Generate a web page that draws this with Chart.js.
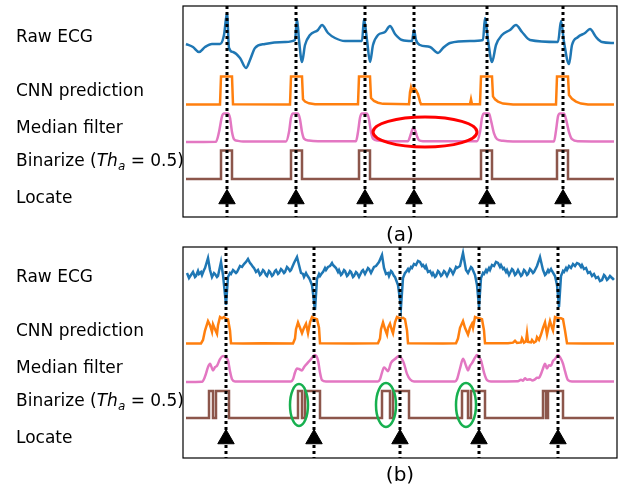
<!DOCTYPE html>
<html>
<head>
<meta charset="utf-8">
<script src="https://cdn.jsdelivr.net/npm/chart.js@4.4.0/dist/chart.umd.min.js"></script>
<style>
  body { margin:0; background:#fff; width:622px; height:487px; position:relative; overflow:hidden; font-family:"DejaVu Sans", sans-serif; }
  .panel { position:absolute; left:0; width:622px; height:240px; }
  .lbl { position:absolute; left:16px; font-size:17px; line-height:20px; color:#000; white-space:nowrap; transform:translateY(-50%); }
  .lbl sub { font-size:12px; font-style:italic; }
  .cap { position:absolute; left:400px; font-size:20px; line-height:24px; transform:translate(-50%,-50%); }
</style>
</head>
<body>
<div class="panel" style="top:0"><canvas id="chartA" width="622" height="240"></canvas></div>
<div class="panel" style="top:241px"><canvas id="chartB" width="622" height="240"></canvas></div>

<div class="lbl" style="top:36px">Raw ECG</div>
<div class="lbl" style="top:90px">CNN prediction</div>
<div class="lbl" style="top:127px">Median filter</div>
<div class="lbl" style="top:163px">Binarize (<i>Th</i><sub>a</sub> = 0.5)</div>
<div class="lbl" style="top:197px">Locate</div>
<div class="cap" style="top:234px">(a)</div>

<div class="lbl" style="top:276px">Raw ECG</div>
<div class="lbl" style="top:330px">CNN prediction</div>
<div class="lbl" style="top:367px">Median filter</div>
<div class="lbl" style="top:403px">Binarize (<i>Th</i><sub>a</sub> = 0.5)</div>
<div class="lbl" style="top:437px">Locate</div>
<div class="cap" style="top:474px">(b)</div>

<script>
// ---- panel (a) : [sample, value] ----
const ecgA = [[3,0],[10,-3],[16,-8],[22,-3],[29,0],[37,0],[41,9],[44,31],[46,-4],[50,-8],[57,-14],[63,-24],[67,-16],[72,-4],[82,0],[102,2],[112,4],[114,25],[116,4],[119,-18],[122,-1],[127,9],[135,14],[139,19],[145,11],[152,6],[162,3],[179,3],[181,25],[184,4],[187,-18],[190,-1],[195,9],[202,12],[207,18],[212,10],[219,4],[229,3],[231,14],[233,4],[237,-1],[247,-3],[255,-9],[260,-4],[267,1],[287,3],[300,4],[302,26],[305,4],[309,-18],[313,-1],[319,9],[327,14],[333,19],[339,12],[347,4],[375,2],[378,23],[381,2],[386,-20],[389,-1],[395,7],[402,11],[407,15],[413,7],[419,2],[431,1]];
const cnnA = [[3,0.02],[37,0.02],[38,1],[49,1],[50,0.03],[107,0.02],[108,1],[119,1],[120,0.2],[122,0.12],[126,0.06],[132,0.03],[175,0.03],[176,1],[187,1],[188,0.25],[191,0.14],[195,0.08],[200,0.04],[226,0.03],[227,0.45],[228,0.62],[229,0.5],[231,0.6],[233,0.52],[235,0.38],[237,0.12],[238,0.03],[287,0.03],[288,0.2],[289,0.03],[297,0.03],[298,1],[309,1],[310,0.3],[312,0.2],[315,0.12],[320,0.05],[330,0.02],[373,0.02],[374,1],[385,1],[386,0.35],[389,0.22],[393,0.12],[398,0.05],[405,0.02],[431,0.02]];
const medA = [[3,0],[33,0.01],[36,0.35],[39,0.9],[41,1],[45,1],[47,0.85],[49,0.35],[51,0.1],[55,0.04],[60,0.02],[103,0.02],[106,0.35],[108,0.85],[110,1],[115,1],[117,0.8],[119,0.35],[121,0.12],[126,0.05],[135,0.03],[173,0.03],[175,0.35],[177,0.85],[179,1],[184,1],[186,0.8],[188,0.35],[190,0.12],[195,0.05],[205,0.03],[225,0.03],[228,0.3],[230,0.48],[232,0.42],[234,0.2],[236,0.06],[240,0.03],[294,0.03],[297,0.35],[299,0.85],[301,1],[306,1],[308,0.75],[311,0.3],[314,0.1],[320,0.04],[330,0.02],[371,0.02],[373,0.4],[375,0.9],[377,1],[381,1],[383,0.8],[386,0.35],[389,0.1],[395,0.03],[431,0.02]];
const binA = [[38,49],[108,119],[176,187],[298,309],[374,385]];
const peaksA = [44,113,182,231,304,380];

// ---- panel (b) ----
const ecgB = [[4,3],[6,-2],[8,1],[10,4],[12,-1],[13,0],[15,5],[16,2],[18,4],[19,1],[21,6],[22,8],[25,18],[27,6],[29,-1],[31,3],[32,2],[34,-1],[35,0],[38,14],[40,1],[41,-9],[43,-29],[45,-1],[47,3],[48,2],[50,6],[51,5],[53,3],[54,4],[56,8],[57,10],[59,9],[61,12],[63,14],[65,17],[67,13],[68,12],[70,9],[71,8],[73,4],[75,6],[77,1],[78,2],[80,6],[81,5],[83,1],[84,0],[86,5],[87,4],[89,0],[90,1],[92,5],[93,6],[95,2],[96,3],[98,7],[99,6],[101,3],[102,4],[104,9],[105,8],[107,5],[108,6],[111,13],[114,19],[116,11],[118,3],[120,2],[121,-1],[123,3],[124,1],[126,-2],[127,-4],[129,-9],[132,-34],[134,-3],[136,2],[137,0],[139,3],[140,4],[142,8],[143,6],[145,9],[147,10],[149,13],[150,11],[152,9],[153,8],[155,4],[156,6],[158,1],[159,2],[161,6],[162,5],[164,0],[165,1],[167,5],[168,4],[170,-1],[171,0],[173,4],[174,3],[176,-1],[177,1],[179,5],[180,6],[182,2],[183,4],[185,8],[186,7],[188,3],[189,5],[191,9],[193,10],[196,14],[199,21],[201,8],[203,2],[205,3],[206,0],[208,5],[209,4],[211,0],[212,-1],[215,-9],[218,-31],[220,-2],[222,3],[223,4],[225,7],[226,5],[228,9],[229,8],[231,12],[233,11],[235,15],[237,14],[239,10],[240,11],[242,8],[243,10],[245,4],[247,5],[249,1],[250,3],[252,-1],[253,0],[255,5],[256,4],[258,0],[259,1],[261,5],[262,4],[264,0],[265,2],[267,7],[268,6],[270,2],[271,4],[273,9],[274,8],[277,10],[280,23],[283,6],[285,3],[286,5],[288,9],[289,8],[292,1],[294,-9],[296,-31],[298,-2],[300,3],[301,2],[303,6],[304,4],[306,8],[307,6],[309,11],[311,10],[313,14],[315,13],[317,9],[318,11],[320,7],[321,8],[323,4],[324,6],[326,1],[327,3],[329,7],[330,6],[332,1],[333,2],[335,6],[336,4],[338,0],[339,1],[341,6],[342,5],[344,1],[345,2],[347,7],[348,6],[350,3],[351,4],[354,10],[357,19],[360,6],[362,1],[363,2],[365,6],[366,4],[368,7],[369,5],[372,0],[374,-9],[376,-31],[378,0],[380,5],[381,4],[383,8],[384,6],[386,10],[388,8],[390,12],[392,10],[394,13],[396,12],[398,9],[399,11],[401,7],[403,8],[405,3],[407,4],[409,0],[411,2],[413,-2],[415,-1],[417,-5],[419,-4],[421,1],[422,0],[424,-4],[425,-3],[427,0],[428,-1],[430,-3],[431,-2]];
const cnnB = [[3,0.02],[18,0.02],[20,0.15],[22,0.5],[25,0.85],[27,0.7],[29,0.45],[30,0.73],[32,0.55],[34,0.38],[35,0.7],[37,1],[39,0.95],[41,1],[43,0.94],[45,0.92],[47,0.5],[48,0.03],[60,0.02],[80,0.03],[110,0.02],[112,0.2],[113,0.55],[115,0.8],[117,0.6],[119,0.4],[121,0.6],[123,0.75],[125,0.4],[127,0.8],[129,1],[131,0.96],[134,0.92],[136,0.6],[137,0.03],[170,0.02],[195,0.03],[197,0.2],[198,0.55],[200,0.8],[202,0.55],[204,0.35],[205,0.6],[207,0.75],[209,0.5],[210,0.4],[212,0.8],[214,1],[217,0.95],[220,0.97],[222,0.92],[224,0.5],[225,0.03],[260,0.02],[273,0.03],[275,0.2],[277,0.6],[280,0.85],[282,0.6],[285,0.35],[287,0.6],[289,0.75],[290,0.6],[292,1],[295,0.96],[297,0.95],[299,0.92],[301,0.5],[302,0.03],[325,0.03],[330,0.05],[332,0.12],[334,0.04],[338,0.06],[339,0.2],[341,0.05],[343,0.1],[344,0.4],[345,0.08],[348,0.06],[349,0.15],[351,0.05],[353,0.1],[354,0.25],[356,0.15],[358,0.35],[360,0.6],[362,0.8],[364,0.35],[366,0.7],[367,0.85],[369,0.6],[370,0.5],[372,1],[375,0.96],[378,0.95],[380,0.92],[382,0.5],[384,0.03],[400,0.02],[431,0.02]];
const medB = [[3,0],[19,0.01],[22,0.2],[25,0.55],[27,0.68],[30,0.43],[32,0.55],[34,0.6],[37,0.85],[40,0.96],[43,0.9],[45,0.8],[47,0.4],[49,0.1],[52,0.02],[108,0.02],[110,0.1],[112,0.35],[114,0.5],[116,0.48],[119,0.43],[121,0.55],[124,0.68],[128,0.85],[132,1],[135,0.8],[137,0.35],[139,0.07],[143,0.02],[195,0.02],[197,0.1],[199,0.35],[201,0.54],[203,0.48],[205,0.4],[208,0.71],[212,0.85],[216,0.96],[219,0.85],[221,0.68],[224,0.3],[227,0.1],[231,0.02],[272,0.02],[274,0.1],[277,0.5],[280,0.86],[283,0.6],[285,0.43],[287,0.6],[289,0.7],[292,0.9],[294,1],[296,0.92],[298,0.8],[301,0.35],[304,0.07],[308,0.02],[335,0.03],[338,0.08],[340,0.05],[342,0.14],[344,0.08],[347,0.1],[349,0.06],[352,0.1],[354,0.16],[356,0.15],[358,0.3],[360,0.5],[362,0.68],[364,0.5],[366,0.62],[368,0.6],[370,0.78],[372,0.85],[375,1],[377,0.92],[380,0.68],[382,0.4],[385,0.07],[389,0.02],[431,0.02]];
const binB = [[26,30],[33,46],[115,119],[122,137],[199,207],[210,226],[279,285],[288,302],[360,363],[365,380]];
const peaksB = [43,131,217,296,375];

// annotation ellipses [sample, row, half-width, half-height]
const marksA = [[242,126,52,15]];
const marksB = [[116,158,9,21],[203,158,10,22],[283,158,10,22]];

// row layout (y axis runs 0..211 downward)
const rowsA = { ecg: 38, cnn: 99, med: 136, bin: 173, h: 28.5, loc: 193 };
const rowsB = { ecg: 29, cnn: 97, med: 135, bin: 171, h: 27, loc: 192 };

const T0 = 3, T1 = 431;

function trace(pts, base, gain) {
  return pts.map(([t, v]) => ({ x: t, y: base - v * gain }));
}
function steps(on, base, gain) {
  const out = [{ x: T0, y: base }];
  on.forEach(([a, b]) => {
    out.push({ x: a, y: base }, { x: a, y: base - gain }, { x: b, y: base - gain }, { x: b, y: base });
  });
  out.push({ x: T1, y: base });
  return out;
}

const frame = {
  id: 'frame',
  afterDraw(chart) {
    const { ctx, chartArea: a } = chart;
    ctx.save();
    ctx.strokeStyle = '#000';
    ctx.lineWidth = 1.2;
    ctx.strokeRect(a.left, a.top, a.right - a.left, a.bottom - a.top);
    ctx.restore();
  }
};
const ellipses = {
  id: 'ellipses',
  afterDatasetsDraw(chart, args, opts) {
    const { ctx, scales: { x, y } } = chart;
    (opts.items || []).forEach(([t, r, dt, dr]) => {
      const cx = x.getPixelForValue(t), cy = y.getPixelForValue(r);
      const rx = Math.abs(x.getPixelForValue(t + dt) - cx);
      const ry = Math.abs(y.getPixelForValue(r + dr) - cy);
      ctx.save();
      ctx.beginPath();
      ctx.ellipse(cx, cy, rx, ry, 0, 0, Math.PI * 2);
      ctx.strokeStyle = opts.color;
      ctx.lineWidth = opts.width;
      ctx.stroke();
      ctx.restore();
    });
  }
};

function makePanel(id, rows, ecg, cnn, med, bin, peaks, marks, markColor, markWidth, ecgMode) {
  const line = (data, color, extra) => Object.assign({
    data, borderColor: color, borderWidth: 2.5, pointRadius: 0, tension: 0, order: 3
  }, extra || {});
  const datasets = [
    line(trace(ecg, rows.ecg, 1), '#1f77b4', ecgMode),
    line(trace(cnn, rows.cnn, rows.h), '#ff7f0e'),
    line(trace(med, rows.med, rows.h), '#e377c2', { cubicInterpolationMode: 'monotone' }),
    line(steps(bin, rows.bin, rows.h), '#8c564b')
  ];
  peaks.forEach(t => datasets.push({
    data: [{ x: t, y: 0 }, { x: t, y: 211 }],
    borderColor: '#000', borderWidth: 3, borderDash: [3, 3], pointRadius: 0, order: 2
  }));
  datasets.push({
    data: peaks.map(t => ({ x: t, y: rows.loc })),
    showLine: false, pointStyle: 'triangle', pointRadius: 9.5, pointHoverRadius: 9.5,
    pointBackgroundColor: '#000', pointBorderColor: '#000', pointBorderWidth: 1, order: 1, clip: false
  });

  new Chart(document.getElementById(id), {
    type: 'line',
    data: { datasets },
    options: {
      responsive: false,
      animation: false,
      events: [],
      layout: { autoPadding: false, padding: { left: 183, right: 5, top: 6, bottom: 23 } },
      plugins: {
        legend: { display: false },
        tooltip: { enabled: false },
        ellipses: { items: marks, color: markColor, width: markWidth }
      },
      scales: {
        x: { type: 'linear', min: 0, max: 434, display: false },
        y: { type: 'linear', min: 0, max: 211, reverse: true, display: false }
      }
    },
    plugins: [frame, ellipses]
  });
}

makePanel('chartA', rowsA, ecgA, cnnA, medA, binA, peaksA, marksA, '#ff0000', 3, { cubicInterpolationMode: 'monotone' });
makePanel('chartB', rowsB, ecgB, cnnB, medB, binB, peaksB, marksB, '#17b04f', 2.5, {});
</script>
</body>
</html>
